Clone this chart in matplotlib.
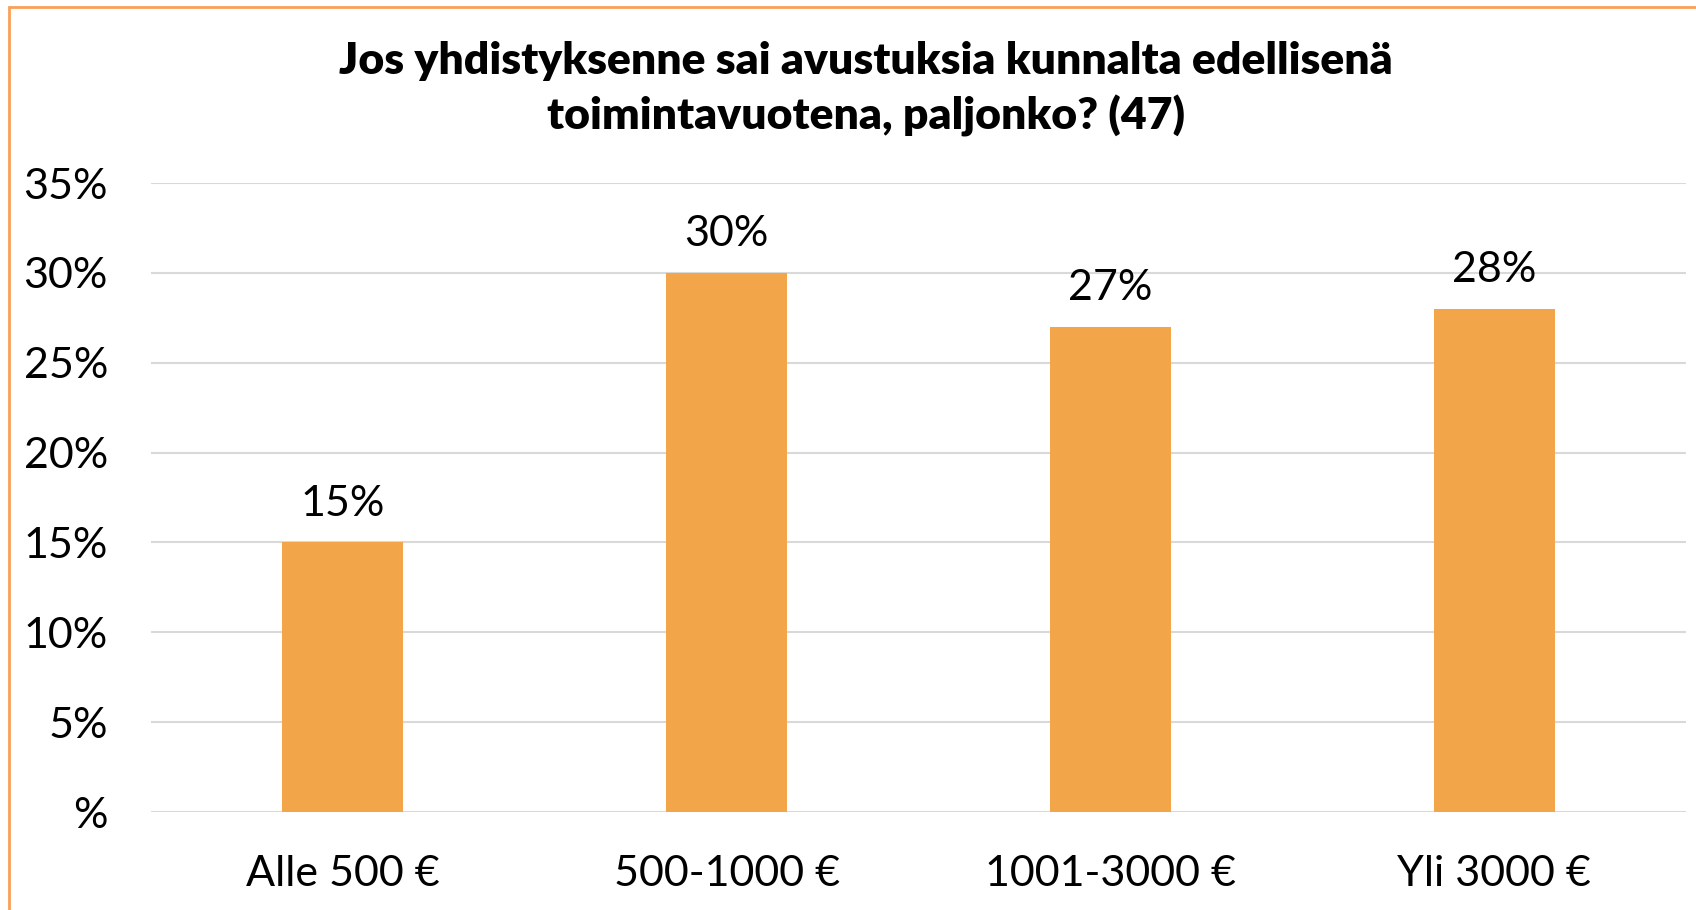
import matplotlib.pyplot as plt
from matplotlib.patches import Rectangle

# Chart data
categories = ["Alle 500 €", "500-1000 €", "1001-3000 €", "Yli 3000 €"]
shares = [0.15, 0.30, 0.27, 0.28]
yticks = [0, 0.05, 0.10, 0.15, 0.20, 0.25, 0.30, 0.35]
title = "Jos yhdistyksenne sai avustuksia kunnalta edellisenä\ntoimintavuotena, paljonko? (47)"

plt.rcParams['font.family'] = ['Lato', 'DejaVu Sans']

fig = plt.figure(figsize=(16.96, 9.10), dpi=100)
ax = fig.add_axes([151 / 1696, 1 - 812 / 910, (1686 - 151) / 1696, (812 - 183) / 910])

x = list(range(len(categories)))
ax.bar(x, shares, width=0.315, color='#F3A54A', zorder=3)

# Data labels above the bars
for xi, v in zip(x, shares):
    ax.annotate(f"{v * 100:.0f}%", (xi, v), xytext=(0, 14), textcoords='offset points',
                ha='center', va='bottom', fontsize=31, color='black')

ax.set_xlim(-0.5, len(categories) - 0.5)
ax.set_ylim(0, 0.35)
ax.set_yticks(yticks)
ax.set_yticklabels(["%" if t == 0 else f"{t * 100:.0f}%" for t in yticks])
ax.set_xticks(x)
ax.set_xticklabels(categories)
ax.tick_params(axis='y', length=0, pad=31, labelsize=31)
ax.tick_params(axis='x', length=0, pad=31, labelsize=31)

ax.grid(axis='y', color='#D9D9D9', linewidth=1.5, zorder=0)
for s in ax.spines.values():
    s.set_visible(False)

fig.text(866 / 1696, 1 - 89 / 910, title, ha='center', va='center', fontsize=32,
         fontweight='heavy', linespacing=1.4)

# Orange chart border (cut off at right and bottom)
fig.patches.append(Rectangle((9 / 1696, -0.1), 1.2, 1.1 - 7 / 910, transform=fig.transFigure,
                             fill=False, edgecolor='#F9A05A', linewidth=2))

fig.savefig("out.png", dpi=100)
